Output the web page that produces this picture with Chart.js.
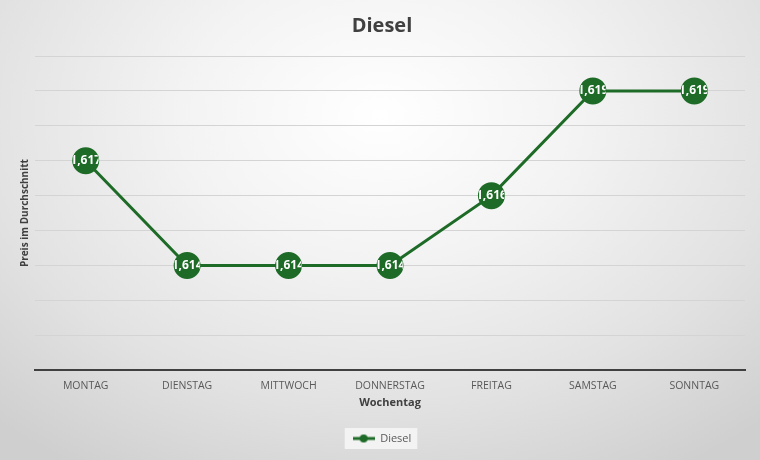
<!DOCTYPE html>
<html>
<head>
<meta charset="utf-8">
<script src="https://cdn.jsdelivr.net/npm/chart.js@4"></script>
<style>
  html, body { margin: 0; padding: 0; }
  body {
    width: 760px; height: 460px; overflow: hidden;
    background: radial-gradient(ellipse 75% 90% at 50% 25%, #ffffff 0%, #f3f3f3 35%, #e2e2e2 70%, #cfcfcf 100%);
  }
  #wrap { width: 760px; height: 460px; }
</style>
</head>
<body>
<div id="wrap"><canvas id="chart"></canvas></div>
<script>
const days = ['MONTAG', 'DIENSTAG', 'MITTWOCH', 'DONNERSTAG', 'FREITAG', 'SAMSTAG', 'SONNTAG'];
const diesel = [1.617, 1.614, 1.614, 1.614, 1.616, 1.619, 1.619];
const yMin = 1.611;
const yMax = 1.620;
const yStep = 0.001;

const green = '#1e6b27';
const font = '"Open Sans", "Noto Sans", sans-serif';
const dotRadius = 12;

// legend marker: line with a dot, like the Excel legend
const marker = document.createElement('canvas');
marker.width = 22;
marker.height = 10;
const mctx = marker.getContext('2d');
mctx.strokeStyle = green;
mctx.lineWidth = 3;
mctx.beginPath();
mctx.moveTo(0, 5);
mctx.lineTo(22, 5);
mctx.stroke();
mctx.fillStyle = green;
mctx.beginPath();
mctx.arc(11, 5, 4, 0, Math.PI * 2);
mctx.fill();

// white value inside each dot, cut off at the dot edge
const valueLabels = {
  id: 'valueLabels',
  afterDatasetsDraw(chart) {
    const ctx = chart.ctx;
    const meta = chart.getDatasetMeta(0);
    meta.data.forEach((pt, i) => {
      const v = chart.data.datasets[0].data[i];
      ctx.save();
      ctx.beginPath();
      ctx.arc(pt.x, pt.y, dotRadius + 1, 0, Math.PI * 2);
      ctx.clip();
      ctx.font = 'bold 12px ' + font;
      ctx.fillStyle = '#ffffff';
      ctx.textAlign = 'center';
      ctx.textBaseline = 'middle';
      ctx.fillText(v.toFixed(3).replace('.', ','), pt.x, pt.y);
      ctx.restore();
    });
  }
};

const legendBox = {
  id: 'legendBox',
  beforeDraw(chart) {
    const lg = chart.legend;
    if (!lg) return;
    const item = lg.legendHitBoxes[0];
    if (!item) return;
    const ctx = chart.ctx;
    ctx.save();
    ctx.fillStyle = 'rgba(245,245,245,0.9)';
    ctx.fillRect(item.left - 8, item.top - 5, item.width + 14, item.height + 10);
    ctx.restore();
  }
};

new Chart(document.getElementById('chart'), {
  type: 'line',
  data: {
    labels: days,
    datasets: [
      {
        label: 'Diesel',
        data: diesel,
        borderColor: green,
        backgroundColor: green,
        borderWidth: 3,
        pointRadius: dotRadius,
        pointBackgroundColor: green,
        pointBorderColor: green,
        tension: 0
      }
    ]
  },
  options: {
    responsive: true,
    maintainAspectRatio: false,
    animation: false,
    layout: { padding: { top: 14, left: 19, right: 15, bottom: 6 } },
    plugins: {
      title: {
        display: true,
        text: 'Diesel',
        color: '#404040',
        font: { family: font, size: 20, weight: 'bold' },
        padding: { top: 0, bottom: 18 }
      },
      legend: {
        position: 'bottom',
        labels: {
          color: '#595959',
          font: { family: font, size: 11 },
          usePointStyle: true,
          pointStyleWidth: 22,
          padding: 12,
          generateLabels: () => [{
            text: 'Diesel',
            pointStyle: marker,
            fillStyle: green,
            strokeStyle: green,
            fontColor: '#595959',
            datasetIndex: 0
          }]
        }
      },
      tooltip: { enabled: false }
    },
    scales: {
      x: {
        offset: true,
        grid: { display: false },
        border: { color: '#404040', width: 2 },
        ticks: { color: '#595959', font: { family: font, size: 10.5 }, padding: 2 },
        title: {
          display: true,
          text: 'Wochentag',
          color: '#404040',
          font: { family: font, size: 11, weight: 'bold' },
          padding: { top: 1, bottom: 12 }
        }
      },
      y: {
        min: yMin,
        max: yMax,
        ticks: { display: false, stepSize: yStep },
        grid: { color: '#d4d4d4', lineWidth: 1, drawTicks: false },
        border: { display: false },
        title: {
          display: true,
          text: 'Preis im Durchschnitt',
          color: '#404040',
          font: { family: font, size: 10, weight: 'bold' },
          padding: { top: 0, bottom: 4 }
        }
      }
    }
  },
  plugins: [legendBox, valueLabels]
});
</script>
</body>
</html>
